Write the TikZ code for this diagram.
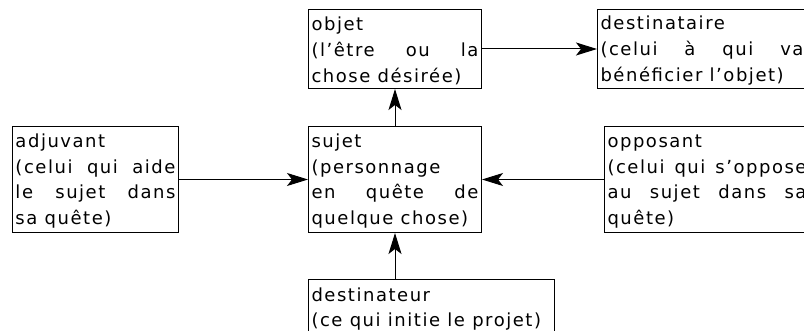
\documentclass[tikz,border=0pt]{standalone}
\usepackage{fontspec}
\setmainfont[LetterSpace=8.5]{DejaVu Sans}
\usetikzlibrary{arrows.meta}
\newcommand\actantfont{\fontsize{18}{25.7}\selectfont\tolerance=10000\relax\hyphenpenalty=10000\relax}

\begin{document}
\begin{tikzpicture}[x=1pt,y=-1pt,
	actant/.style={draw=black,line width=1pt,anchor=north west,inner xsep=3pt,inner ysep=0pt,align=justify,
		font=\actantfont,execute at begin node={\rule{0pt}{17pt}}},
	fleche/.style={-{Stealth[length=21pt,width=13pt,inset=5pt]},line width=1pt}]
	\useasboundingbox (0,0) rectangle (804,331);
	\node [actant,text width=167pt,minimum height=79pt] (objet) at (308,9) {objet\\(l’être ou la\linebreak chose désirée)};
	\node [actant,text width=203pt,minimum height=79pt] (destinataire) at (597,9) {destinataire\\(celui à qui va\linebreak bénéficier l’objet)};
	\node [actant,text width=160pt,minimum height=106pt] (adjuvant) at (12,126) {adjuvant\\(celui qui aide\linebreak le sujet dans\linebreak sa quête)};
	\node [actant,text width=167pt,minimum height=106pt] (sujet) at (308,126) {sujet\\(personnage\\en quête de\linebreak quelque chose)};
	\node [actant,text width=199pt,minimum height=106pt] (opposant) at (604,126) {opposant\\(celui qui s’oppose\linebreak au sujet dans sa\linebreak quête)};
	\node [actant,text width=240pt,minimum height=56pt] (destinateur) at (308,279) {destinateur\\(ce qui initie le projet)};
	\draw [fleche] (objet) -- (destinataire);
	\draw [fleche] (sujet) -- (objet);
	\draw [fleche] (adjuvant) -- (sujet);
	\draw [fleche] (opposant) -- (sujet);
	\draw [fleche] (sujet.south |- destinateur.north) -- (sujet.south);
\end{tikzpicture}
\end{document}
